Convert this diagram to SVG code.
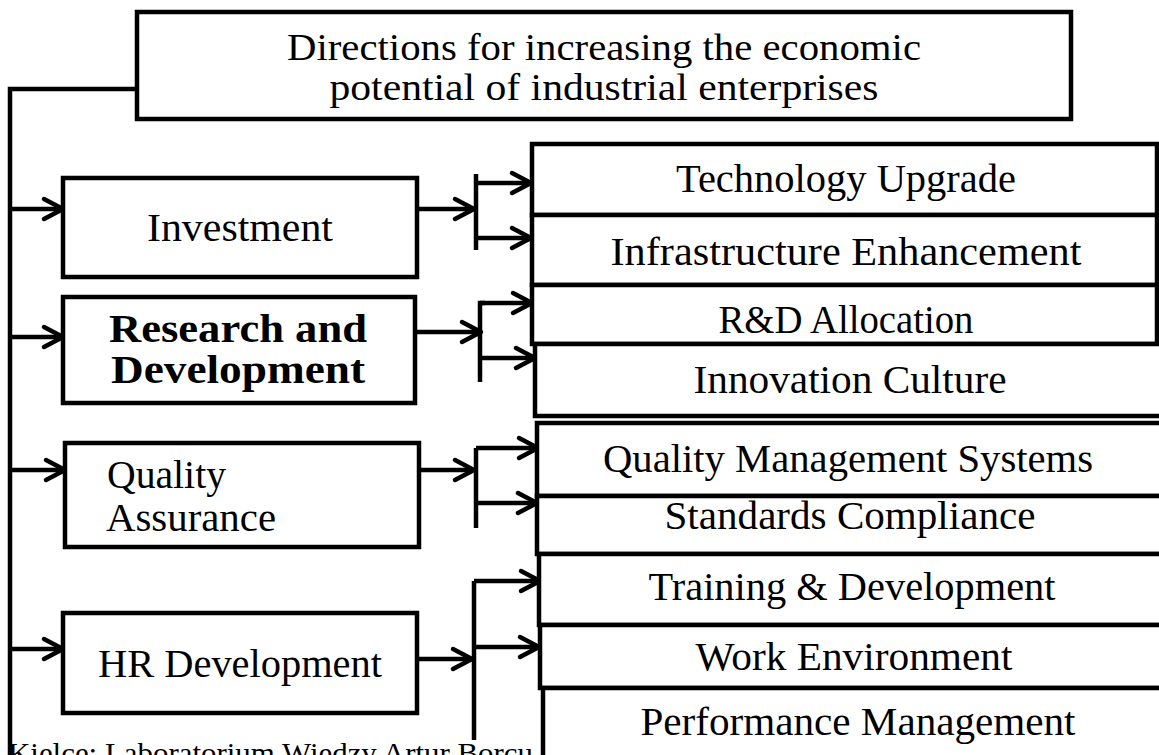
<svg xmlns="http://www.w3.org/2000/svg" width="1159" height="755" viewBox="0 0 1159 755">
<style>
.box{fill:#fff;stroke:#000;stroke-width:4.5}
.t{font-family:"Liberation Serif","Times New Roman",serif;font-size:40px;fill:#000}
.h{font-size:37px}
.c{text-anchor:middle}
.b{font-weight:bold}
.ln{fill:none;stroke:#000;stroke-width:4.5}
.ar{fill:none;stroke:#000;stroke-width:4.5;marker-end:url(#arr)}
</style>
<defs>
<marker id="arr" markerUnits="userSpaceOnUse" markerWidth="26" markerHeight="26" viewBox="0 0 26 26" refX="22" refY="13" orient="auto" overflow="visible">
<path d="M3,3 L22,13 L3,23" fill="none" stroke="#000" stroke-width="4.5" stroke-linecap="round" stroke-linejoin="round"/>
</marker>
</defs>
<rect width="1159" height="755" fill="#fff"/>
<text id="footer" class="t" x="8" y="763" style="font-size:30px" textLength="525" lengthAdjust="spacingAndGlyphs">Kielce: Laboratorium Wiedzy Artur Borcu</text>
<g id="connectors">
<path class="ln" d="M137,89 H10 V760"/>
<path class="ar" d="M10,209 H63"/>
<path class="ar" d="M10,337 H63"/>
<path class="ar" d="M10,470 H65"/>
<path class="ar" d="M10,649 H63"/>
<path class="ar" d="M417,209 H474"/>
<path class="ln" d="M476,174 V250"/>
<path class="ar" d="M476,183 H531"/>
<path class="ar" d="M476,238 H531"/>
<path class="ar" d="M415,332 H481"/>
<path class="ln" d="M480,382 V303 H485"/>
<path class="ar" d="M480,303 H532"/>
<path class="ar" d="M480,358 H535"/>
<path class="ar" d="M419,470 H474"/>
<path class="ln" d="M476,528 V448"/>
<path class="ar" d="M476,448 H538"/>
<path class="ar" d="M476,503 H537"/>
<path class="ar" d="M417,659 H472"/>
<path class="ln" d="M474,740 V581"/>
<path class="ar" d="M474,581 H540"/>
<path class="ar" d="M474,647 H539"/>
</g>
<g id="title">
<rect class="box" x="137" y="12" width="934" height="107"/>
<text class="t c h" x="604" y="60" textLength="634" lengthAdjust="spacingAndGlyphs">Directions for increasing the economic</text>
<text class="t c h" x="604" y="100" textLength="549" lengthAdjust="spacingAndGlyphs">potential of industrial enterprises</text>
</g>
<g id="investment">
<rect class="box" x="63" y="178" width="354" height="99"/>
<text class="t c" x="240" y="241" textLength="186" lengthAdjust="spacingAndGlyphs">Investment</text>
</g>
<g id="rd">
<rect class="box" x="63" y="297" width="352" height="106"/>
<text class="t c b" x="238" y="342" textLength="258" lengthAdjust="spacingAndGlyphs">Research and</text>
<text class="t c b" x="238" y="383" textLength="254" lengthAdjust="spacingAndGlyphs">Development</text>
</g>
<g id="qa">
<rect class="box" x="65" y="443" width="354" height="104"/>
<text class="t" x="107" y="488" textLength="119" lengthAdjust="spacingAndGlyphs">Quality</text>
<text class="t" x="106" y="531" textLength="170" lengthAdjust="spacingAndGlyphs">Assurance</text>
</g>
<g id="hr">
<rect class="box" x="63" y="613" width="354" height="100"/>
<text class="t c" x="240" y="677" textLength="284" lengthAdjust="spacingAndGlyphs">HR Development</text>
</g>
<g id="tech">
<rect class="box" x="532" y="144" width="625" height="71"/>
<text class="t c" x="846" y="192" textLength="340" lengthAdjust="spacingAndGlyphs">Technology Upgrade</text>
</g>
<g id="infra">
<rect class="box" x="532" y="215" width="625" height="70"/>
<text class="t c" x="846" y="265" textLength="471" lengthAdjust="spacingAndGlyphs">Infrastructure Enhancement</text>
</g>
<g id="rdalloc">
<rect class="box" x="532" y="285" width="625" height="59"/>
<text class="t c" x="846" y="333" textLength="255" lengthAdjust="spacingAndGlyphs">R&amp;D Allocation</text>
</g>
<g id="innov">
<rect class="box" x="535" y="344" width="640" height="72"/>
<text class="t c" x="850" y="393" textLength="313" lengthAdjust="spacingAndGlyphs">Innovation Culture</text>
</g>
<g id="qms">
<rect class="box" x="537" y="423" width="640" height="73"/>
<text class="t c" x="848" y="472" textLength="490" lengthAdjust="spacingAndGlyphs">Quality Management Systems</text>
</g>
<g id="standards">
<rect class="box" x="537" y="496" width="640" height="58"/>
<text class="t c" x="850" y="529" textLength="371" lengthAdjust="spacingAndGlyphs">Standards Compliance</text>
</g>
<g id="training">
<rect class="box" x="539" y="554" width="640" height="71"/>
<text class="t c" x="852" y="600" textLength="407" lengthAdjust="spacingAndGlyphs">Training &amp; Development</text>
</g>
<g id="work">
<rect class="box" x="540" y="625" width="640" height="63"/>
<text class="t c" x="854" y="670" textLength="317" lengthAdjust="spacingAndGlyphs">Work Environment</text>
</g>
<g id="perf">
<rect class="box" x="543" y="688" width="640" height="90"/>
<text class="t c" x="858" y="735" textLength="435" lengthAdjust="spacingAndGlyphs">Performance Management</text>
</g>
</svg>
